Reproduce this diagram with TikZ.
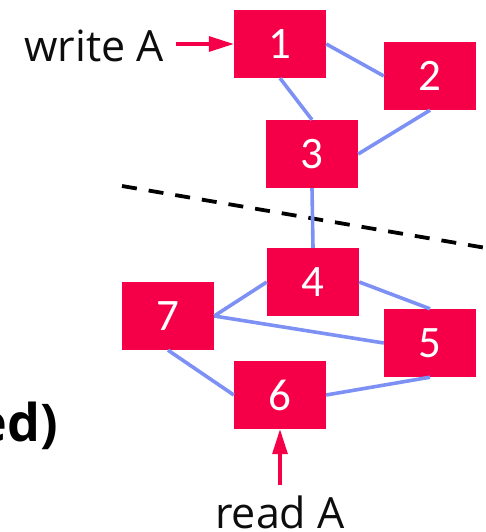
\documentclass[tikz,border=0pt]{standalone}
\usepackage{fontspec}
\setmainfont{Open Sans}
\newfontfamily\digitfont{Carlito}
\usetikzlibrary{arrows.meta}
\definecolor{boxred}{RGB}{245,0,72}
\definecolor{linkblue}{RGB}{125,145,245}
\begin{document}
\begin{tikzpicture}[x=1pt,y=-1pt,
  server/.style={fill=boxred,draw=none,minimum width=92pt,minimum height=68pt,
    inner sep=0pt,text=white,font=\digitfont\fontsize{45}{45}\selectfont},
  link/.style={draw=linkblue,line width=3.6pt},
  request/.style={draw=boxred,line width=3.2pt,-{Triangle[length=25pt,width=15pt]}},
  caption/.style={inner sep=0pt,font=\fontsize{43}{43}\selectfont,text=black!95}]
\useasboundingbox (0,0) rectangle (485,532);

% partition boundary
\coordinate (cutL) at (122,186);
\coordinate (cutR) at (492,249);
\draw[black,line width=3.8pt,dash pattern=on 15pt off 12pt] (cutL) -- (cutR);

% servers
\node[server] (n1) at (280,44) {1};
\node[server] (n2) at (430,76) {2};
\node[server] (n3) at (312,154) {3};
\node[server] (n4) at (313,282) {4};
\node[server] (n7) at (168,316) {7};
\node[server] (n5) at (430,343) {5};
\node[server] (n6) at (280,395) {6};

% links between servers
\draw[link] (n1.east) -- (n2.west);
\draw[link] (n1.south) -- (n3.north);
\draw[link] (n3.east) -- (n2.south);
\draw[link] (n3.south) -- (n4.north);
\draw[link] (n4.west) -- (n7.east);
\draw[link] (n4.east) -- (n5.north);
\draw[link] (n7.east) -- (n5.west);
\draw[link] (n7.south) -- (n6.west);
\draw[link] (n6.east) -- (n5.south);

% client operations
\node[caption,anchor=base west] (wr) at (24,62) {write A};
\coordinate (wrEnd) at (176,44);
\draw[request] (wrEnd) -- (n1.west);

\node[caption,anchor=base] (rd) at (280,528) {read A};
\coordinate (rdEnd) at (280,485);
\draw[request] (rdEnd) -- (n6.south);

% side heading
\node[inner sep=0pt,anchor=base east,font=\bfseries\fontsize{52}{52}\selectfont] (hd) at (58,441) {ed)};
\end{tikzpicture}
\end{document}
